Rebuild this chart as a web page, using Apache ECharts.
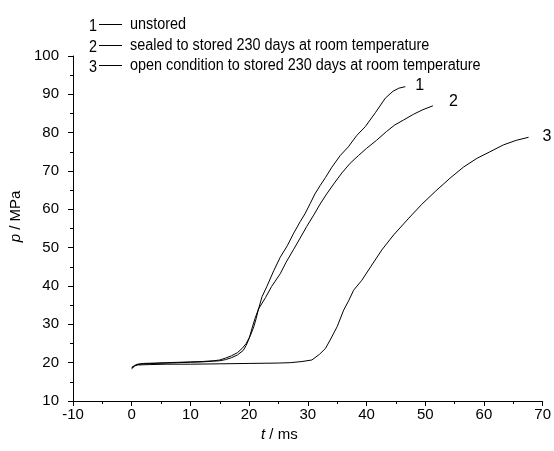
<!DOCTYPE html>
<html>
<head>
<meta charset="utf-8">
<script src="https://cdn.jsdelivr.net/npm/echarts@6/dist/echarts.min.js"></script>
<style>
  html, body { margin: 0; padding: 0; background: #fff; }
  #chart { width: 554px; height: 451px; }
</style>
</head>
<body>
<div id="chart"></div>
<script>
// curve 1: unstored  [t (ms), p (MPa)]
var unstored = [
    [0, 18.6], [0.5, 19.3], [1, 19.6], [2, 19.8], [4, 19.9], [6, 20.0], [8, 20.1],
    [10, 20.2], [12, 20.3], [14, 20.5], [15, 20.7], [16, 21.2], [17, 21.8], [18, 22.6],
    [18.8, 23.7], [19.5, 25], [20.2, 27], [20.8, 29.4], [21.2, 31.5], [21.6, 34], [22.2, 37.2],
    [23, 39.8], [24.2, 44], [25.3, 47.5], [26.5, 50.5], [27.6, 53.8], [28.7, 56.8],
    [29.5, 58.8], [30.4, 61.5], [31.2, 64], [32.1, 66.2], [33, 68.3], [34.1, 71],
    [35.5, 74], [36.9, 76.3], [38.3, 79.2], [39.8, 81.6], [41.5, 85.2], [43.2, 89],
    [44.5, 90.8], [45.5, 91.6], [46.6, 92]
];
// curve 2: sealed, stored 230 days
var sealed = [
    [0, 18.4], [0.5, 19.1], [1, 19.5], [2, 19.7], [4, 19.8], [6, 19.9], [8, 20.0],
    [10, 20.1], [12, 20.2], [14, 20.4], [15, 20.5], [16, 20.8], [17, 21.3], [18, 22],
    [19, 23.2], [19.5, 24.5], [20, 26.3], [20.5, 29], [21, 31.5], [21.6, 34], [22.8, 37],
    [23.8, 39.8], [25.3, 43.2], [26.3, 46.2], [27.6, 49.6], [28.8, 52.8], [29.8, 55.5],
    [31, 58.5], [32.1, 61.4], [33.2, 64], [34.4, 66.6], [35.8, 69.5], [37.2, 72],
    [38.6, 74], [40, 75.9], [41.7, 78], [43.4, 80.3], [44.8, 82], [46.3, 83.3],
    [48, 84.8], [49.6, 86], [51.3, 87]
];
// curve 3: open condition, stored 230 days
var opened = [
    [0, 18.8], [0.5, 19.2], [1, 19.4], [3, 19.5], [6, 19.6], [10, 19.6], [15, 19.7],
    [20, 19.8], [25, 19.9], [27, 20.0], [29, 20.3], [30.7, 20.7], [32, 22.2], [33, 23.7],
    [33.8, 25.9], [35, 29.4], [36.1, 33.7], [37, 36.3], [37.8, 38.9], [39.2, 41.5],
    [40.7, 45], [42.6, 49.4], [44.6, 53.3], [47.2, 57.7], [49.4, 61.3], [51.8, 64.8],
    [54.2, 68.1], [56.5, 71], [58.8, 73.3], [61, 75], [63.3, 76.8], [65.5, 78], [67.6, 78.8]
];

var curveNames = ['unstored', 'sealed to stored 230 days at room temperature',
    'open condition to stored 230 days at room temperature'];
var curveNumbers = ['1', '2', '3'];
var curveData = [unstored, sealed, opened];
var labelOffsets = [[6, -1], [12, -4], [10, -1]];

var fontName = "'Liberation Sans', Arial, sans-serif";
var tickSize = 15;
var legendSize = 16;

function init() {
    var chart = echarts.init(document.getElementById('chart'));

    var series = [];
    for (var i = 0; i < curveData.length; i++) {
        series.push({
            name: curveNames[i],
            type: 'line',
            data: curveData[i],
            showSymbol: false,
            symbol: 'none',
            animation: false,
            lineStyle: { color: '#000', width: 1 },
            endLabel: {
                show: true,
                formatter: curveNumbers[i],
                color: '#000',
                fontFamily: fontName,
                fontSize: legendSize,
                distance: 4,
                offset: labelOffsets[i]
            }
        });
    }

    // legend drawn as text: number, short line, description (slightly condensed)
    var legendItems = [];
    var rowY = [24.5, 45.5, 65.5];
    for (var k = 0; k < curveNames.length; k++) {
        legendItems.push({
            type: 'text', x: 89, y: rowY[k] + 2, scaleX: 0.9,
            style: { text: curveNumbers[k], fill: '#000', font: legendSize + 'px ' + fontName,
                verticalAlign: 'middle' }
        });
        legendItems.push({
            type: 'line',
            shape: { x1: 99, y1: rowY[k], x2: 122, y2: rowY[k] },
            style: { stroke: '#000', lineWidth: 1 }
        });
        legendItems.push({
            type: 'text', x: 130, y: rowY[k], scaleX: 0.9,
            style: { text: curveNames[k], fill: '#000', font: legendSize + 'px ' + fontName,
                verticalAlign: 'middle' }
        });
    }

    chart.setOption({
        backgroundColor: '#fff',
        animation: false,
        textStyle: { fontFamily: fontName },
        grid: { left: 73, right: 11, top: 56, bottom: 50 },
        xAxis: {
            type: 'value',
            min: -10,
            max: 70,
            interval: 10,
            name: '{i|t} / ms',
            nameLocation: 'middle',
            nameGap: 19,
            nameTextStyle: {
                color: '#000', fontSize: tickSize, padding: [0, 57, 0, 0],
                rich: { i: { fontStyle: 'italic', fontSize: tickSize, fontFamily: fontName } }
            },
            axisLine: { onZero: false, lineStyle: { color: '#000', width: 1 } },
            axisTick: { inside: false, length: 5, lineStyle: { color: '#000' } },
            minorTick: { show: true, splitNumber: 2, length: 3, lineStyle: { color: '#000' } },
            splitLine: { show: false },
            axisLabel: { color: '#000', fontSize: tickSize, margin: 6 }
        },
        yAxis: {
            type: 'value',
            min: 10,
            max: 100,
            interval: 10,
            name: '{i|p} / MPa',
            nameLocation: 'middle',
            nameGap: 40,
            nameRotate: 90,
            nameTextStyle: {
                color: '#000', fontSize: tickSize, padding: [0, 0, 0, 24],
                rich: { i: { fontStyle: 'italic', fontSize: tickSize, fontFamily: fontName } }
            },
            axisLine: { show: true, onZero: false, lineStyle: { color: '#000', width: 1 } },
            axisTick: { show: true, inside: false, length: 5, lineStyle: { color: '#000' } },
            minorTick: { show: true, splitNumber: 2, length: 3, lineStyle: { color: '#000' } },
            splitLine: { show: false },
            axisLabel: { color: '#000', fontSize: tickSize, margin: 14 }
        },
        graphic: legendItems,
        series: series
    });
}
document.addEventListener('DOMContentLoaded', init);
</script>
</body>
</html>
